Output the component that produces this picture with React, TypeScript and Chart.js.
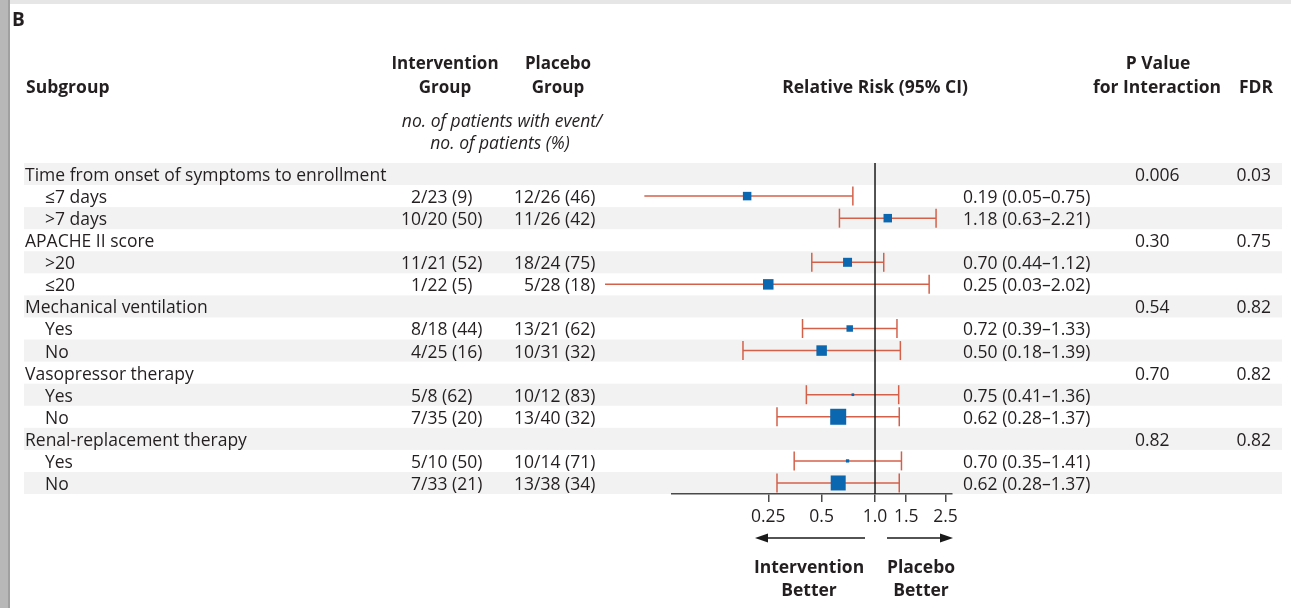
import { useEffect, useRef } from "react";
import { Chart, registerables } from "chart.js";

Chart.register(...registerables);

// ---- data ----
const groupNames = [
  "Time from onset of symptoms to enrollment",
  "APACHE II score",
  "Mechanical ventilation",
  "Vasopressor therapy",
  "Renal-replacement therapy",
];
const pInteraction = ["0.006", "0.30", "0.54", "0.70", "0.82"];
const fdrValues = ["0.03", "0.75", "0.82", "0.82", "0.82"];

const subgroupNames = ["≤7 days", ">7 days", ">20", "≤20", "Yes", "No", "Yes", "No", "Yes", "No"];
const interventionEvents = [
  "2/23 (9)", "10/20 (50)", "11/21 (52)", "1/22 (5)", "8/18 (44)",
  "4/25 (16)", "5/8 (62)", "7/35 (20)", "5/10 (50)", "7/33 (21)",
];
const placeboEvents = [
  "12/26 (46)", "11/26 (42)", "18/24 (75)", "5/28 (18)", "13/21 (62)",
  "10/31 (32)", "10/12 (83)", "13/40 (32)", "10/14 (71)", "13/38 (34)",
];
const relativeRisk = [0.19, 1.18, 0.7, 0.25, 0.72, 0.5, 0.75, 0.62, 0.7, 0.62];
const ciLower = [0.05, 0.63, 0.44, 0.03, 0.39, 0.18, 0.41, 0.28, 0.35, 0.28];
const ciUpper = [0.75, 2.21, 1.12, 2.02, 1.33, 1.39, 1.36, 1.37, 1.41, 1.37];
// relative weight of each subgroup (drives marker area)
const studyWeight = [8.5, 8.5, 9, 10.5, 6.5, 10.5, 2.7, 16, 3.3, 15];

const tickValues = [0.25, 0.5, 1.0, 1.5, 2.5];
const tickLabels = ["0.25", "0.5", "1.0", "1.5", "2.5"];

// ---- styling ----
const FONT = "'Open Sans', 'DejaVu Sans', sans-serif";
const TEXT = "#231f20";
const CI_COLOR = "#d5604a";
const MARK_COLOR = "#0b68b0";
const STRIPE = "#f2f2f2";
const BODY_SIZE = 17.5;
const TEXT_SHIFT = 2; // optical centring of text in its row

const rowOfSub = (i: number) => Math.floor(i / 2) * 3 + 1 + (i % 2);
const rowOfGroup = (g: number) => g * 3;
const fmt = (v: number) => v.toFixed(2);

const forestTable = {
  id: "forestTable",
  beforeDraw(chart: any) {
    const { ctx, scales } = chart;
    const y = scales.y;
    ctx.save();
    ctx.fillStyle = "#ffffff";
    ctx.fillRect(0, 0, chart.width, chart.height);
    // page frame
    ctx.fillStyle = "#e6e6e6";
    ctx.fillRect(0, 0, chart.width, 4);
    ctx.fillStyle = "#b8b8b8";
    ctx.fillRect(0, 0, 8, chart.height);
    ctx.fillStyle = "#a0a0a0";
    ctx.fillRect(8, 0, 2, chart.height);
    // row stripes
    ctx.fillStyle = STRIPE;
    for (let r = 0; r < 15; r += 2) {
      const y0 = y.getPixelForValue(r - 0.5);
      const y1 = y.getPixelForValue(r + 0.5);
      ctx.fillRect(24, y0, 1258, y1 - y0);
    }
    ctx.restore();
  },
  afterDatasetsDraw(chart: any) {
    const { ctx, scales, chartArea } = chart;
    const x1 = scales.x.getPixelForValue(1);
    ctx.save();
    ctx.strokeStyle = "#1a1a1a";
    ctx.lineWidth = 1.5;
    ctx.beginPath();
    ctx.moveTo(x1, chartArea.top);
    ctx.lineTo(x1, chartArea.bottom);
    ctx.stroke();
    ctx.restore();
  },
  afterDraw(chart: any) {
    const { ctx, scales } = chart;
    const y = scales.y;
    const x1 = scales.x.getPixelForValue(1);
    const body = `${BODY_SIZE}px ${FONT}`;
    const bold = `bold ${BODY_SIZE}px ${FONT}`;
    const italic = `italic 17.5px ${FONT}`;
    const s = TEXT_SHIFT;
    ctx.save();
    ctx.fillStyle = TEXT;
    ctx.textBaseline = "middle";

    // panel letter
    ctx.font = `bold 19px ${FONT}`;
    ctx.textAlign = "left";
    ctx.fillText("B", 12, 19 + s);

    // column headers
    ctx.font = bold;
    ctx.textAlign = "left";
    ctx.fillText("Subgroup", 26, 86 + s);
    ctx.textAlign = "center";
    ctx.font = `bold 17px ${FONT}`;
    ctx.fillText("Intervention", 445, 62 + s);
    ctx.fillText("Group", 445, 86 + s);
    ctx.fillText("Placebo", 558, 62 + s);
    ctx.fillText("Group", 558, 86 + s);
    ctx.font = bold;
    ctx.fillText("Relative Risk (95% CI)", x1, 86 + s);
    ctx.fillText("P Value", 1158, 62 + s);
    ctx.fillText("for Interaction", 1157, 86 + s);
    ctx.fillText("FDR", 1256, 86 + s);
    ctx.font = italic;
    ctx.fillText("no. of patients with event/", 502, 120 + s);
    ctx.fillText("no. of patients (%)", 500, 142 + s);

    // group rows
    groupNames.forEach((name, g) => {
      const yy = y.getPixelForValue(rowOfGroup(g)) + s;
      ctx.font = body;
      ctx.textAlign = "left";
      ctx.fillText(name, 25, yy);
      ctx.fillText(pInteraction[g], 1135, yy);
      ctx.textAlign = "right";
      ctx.fillText(fdrValues[g], 1271, yy);
    });

    // subgroup rows
    const drawEvents = (str: string, slashX: number, yy: number) => {
      const k = str.indexOf("/");
      ctx.textAlign = "right";
      ctx.fillText(str.slice(0, k), slashX, yy);
      ctx.textAlign = "left";
      ctx.fillText(str.slice(k), slashX, yy);
    };
    subgroupNames.forEach((name, i) => {
      const yy = y.getPixelForValue(rowOfSub(i)) + s;
      ctx.font = body;
      ctx.textAlign = "left";
      ctx.fillText(name, 45, yy);
      drawEvents(interventionEvents[i], 421, yy);
      drawEvents(placeboEvents[i], 534, yy);
      ctx.textAlign = "left";
      ctx.fillText(
        `${fmt(relativeRisk[i])} (${fmt(ciLower[i])}–${fmt(ciUpper[i])})`,
        963,
        yy
      );
    });

    // direction arrows
    const ay = 538;
    ctx.strokeStyle = "#1a1a1a";
    ctx.fillStyle = "#1a1a1a";
    ctx.lineWidth = 1.5;
    const arrow = (from: number, to: number) => {
      const dir = Math.sign(to - from);
      ctx.beginPath();
      ctx.moveTo(from, ay);
      ctx.lineTo(to - dir * 10, ay);
      ctx.stroke();
      ctx.beginPath();
      ctx.moveTo(to, ay);
      ctx.lineTo(to - dir * 13, ay - 4.5);
      ctx.lineTo(to - dir * 13, ay + 4.5);
      ctx.closePath();
      ctx.fill();
    };
    arrow(x1 - 10, x1 - 120);
    arrow(x1 + 12, x1 + 78);

    ctx.fillStyle = TEXT;
    ctx.font = bold;
    ctx.textAlign = "center";
    ctx.fillText("Intervention", x1 - 66, 566 + s);
    ctx.fillText("Better", x1 - 66, 589 + s);
    ctx.fillText("Placebo", x1 + 46, 566 + s);
    ctx.fillText("Better", x1 + 46, 589 + s);
    ctx.restore();
  },
};

export default function App() {
  const canvasRef = useRef<HTMLCanvasElement | null>(null);

  useEffect(() => {
    const canvas = canvasRef.current;
    if (!canvas) return;

    const ciSets = relativeRisk.map((_, i) => ({
      type: "line" as const,
      data: [
        { x: ciLower[i], y: rowOfSub(i) },
        { x: ciUpper[i], y: rowOfSub(i) },
      ],
      borderColor: CI_COLOR,
      borderWidth: 1.5,
      pointStyle: "line" as const,
      rotation: 90,
      pointRadius: 9.5,
      pointBorderWidth: 1.5,
      pointBorderColor: CI_COLOR,
      clip: false as any,
      order: 2,
    }));

    const markers = {
      type: "scatter" as const,
      data: relativeRisk.map((v, i) => ({ x: v, y: rowOfSub(i) })),
      pointStyle: "rect" as const,
      pointRadius: studyWeight.map((w) => w / Math.SQRT2),
      backgroundColor: MARK_COLOR,
      borderWidth: 0,
      pointBorderWidth: 0,
      clip: false as any,
      order: 1,
    };

    const chart = new Chart(canvas, {
      type: "scatter",
      data: { datasets: [...ciSets, markers] as any },
      options: {
        animation: false,
        responsive: false,
        events: [],
        layout: { padding: { left: 672, right: 339, top: 163, bottom: 64 } },
        plugins: { legend: { display: false }, tooltip: { enabled: false } },
        scales: {
          x: {
            type: "logarithmic",
            min: 0.0716,
            max: 2.718,
            bounds: "data",
            afterBuildTicks: (scale: any) => {
              scale.ticks = tickValues.map((v) => ({ value: v }));
            },
            afterFit: (scale: any) => {
              scale.height = 50;
            },
            border: { display: true, color: "#4a4a4a", width: 1.5 },
            grid: {
              display: true,
              drawOnChartArea: false,
              drawTicks: true,
              tickLength: 8,
              color: "#4a4a4a",
              lineWidth: 1.5,
            },
            ticks: {
              autoSkip: false,
              maxRotation: 0,
              padding: 5,
              color: TEXT,
              font: { family: FONT, size: BODY_SIZE },
              callback: (_v: any, index: number) => tickLabels[index],
            },
          },
          y: {
            type: "linear",
            min: -0.5,
            max: 14.5,
            reverse: true,
            display: false,
          },
        },
      },
      plugins: [forestTable],
    });

    const fontSet = (document as any).fonts;
    if (fontSet && fontSet.load) {
      Promise.all([
        fontSet.load(`${BODY_SIZE}px 'Open Sans'`),
        fontSet.load(`bold ${BODY_SIZE}px 'Open Sans'`),
        fontSet.load(`italic 17.5px 'Open Sans'`),
      ])
        .then(() => chart.update())
        .catch(() => {});
    }

    return () => chart.destroy();
  }, []);

  return (
    <div style={{ position: "fixed", left: 0, top: 0, width: 1291, height: 608, background: "#fff" }}>
      <canvas ref={canvasRef} width={1291} height={608} style={{ display: "block" }} />
    </div>
  );
}
